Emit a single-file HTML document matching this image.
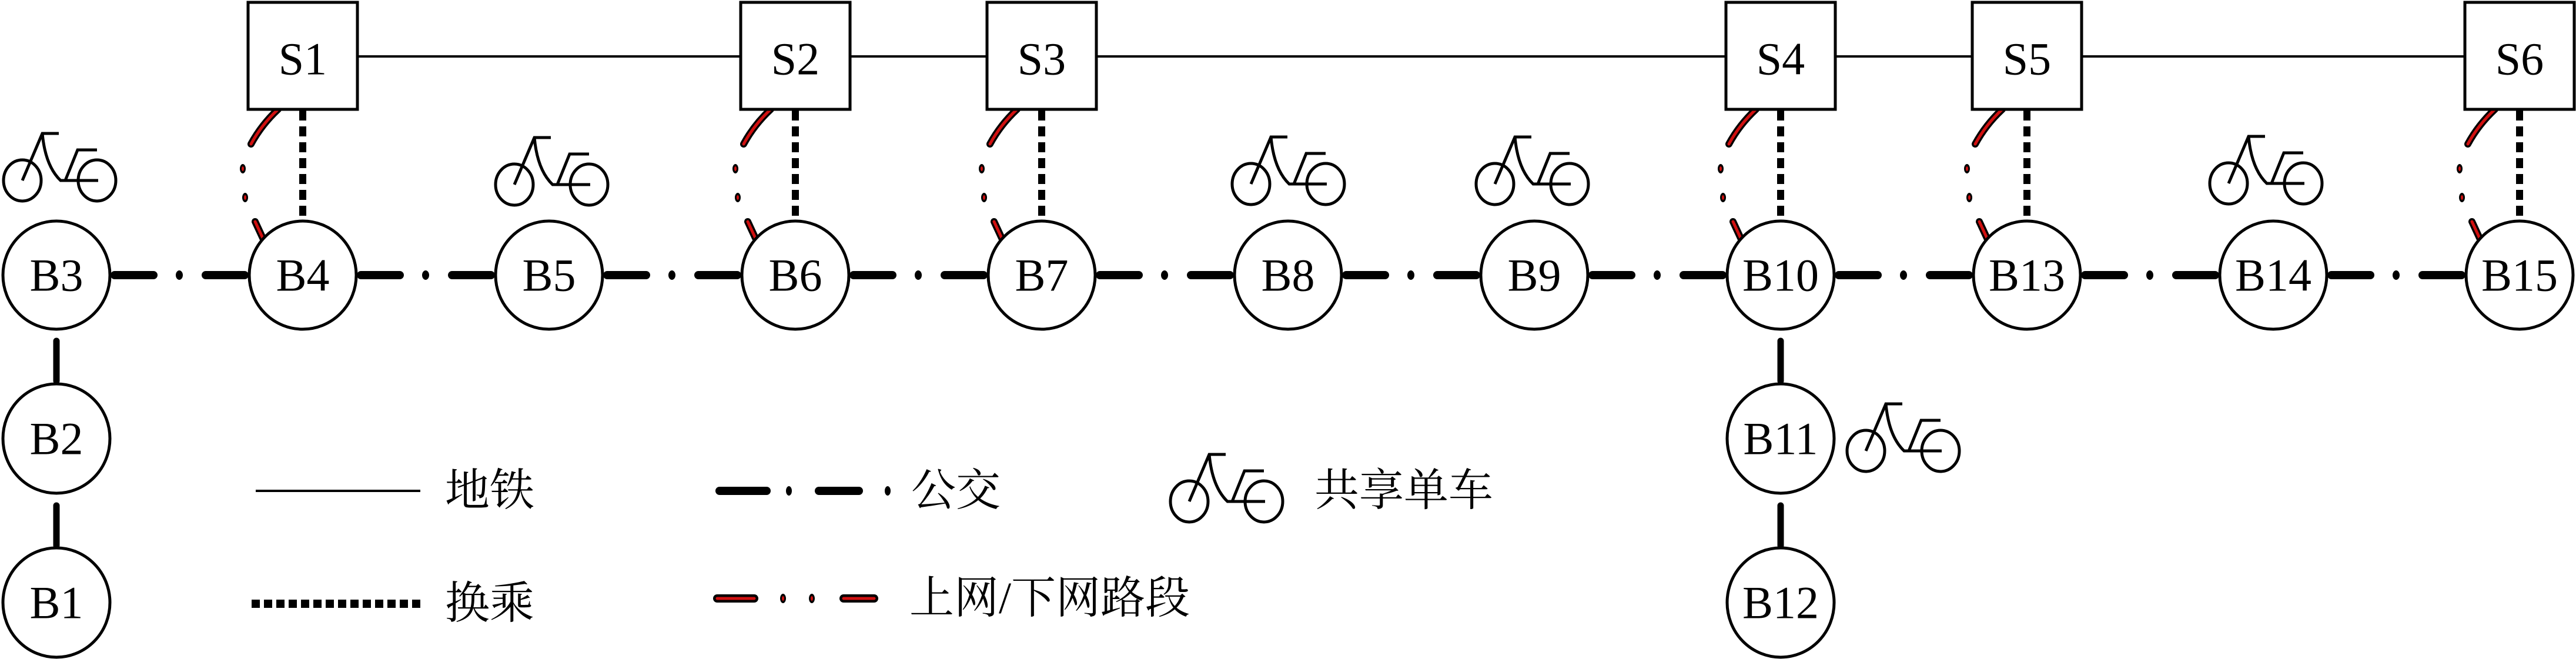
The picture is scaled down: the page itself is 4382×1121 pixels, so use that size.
<!DOCTYPE html>
<html><head><meta charset="utf-8"><style>
html,body{margin:0;padding:0;background:#fff;}
svg{display:block;}
.lbl{font-family:"Liberation Serif",serif;font-size:78px;text-anchor:middle;dominant-baseline:central;}
.leg{font-family:"Liberation Serif","Noto Serif CJK SC",serif;font-size:76px;dominant-baseline:central;}
</style></head><body>
<svg width="4382" height="1121" viewBox="0 0 4382 1121" xmlns="http://www.w3.org/2000/svg">
<defs>
<g id="bike" fill="none" stroke="#000" stroke-width="5">
<ellipse cx="33" cy="80" rx="32" ry="35"/>
<ellipse cx="160" cy="80" rx="32" ry="35"/>
<path d="M33 80 L67 0 L95 0"/>
<path d="M67 0 Q72 55 98 80 L162 80"/>
<path d="M106 80 L127 28 L160 28"/>
</g>
<g id="red">
<path d="M-42 186 Q-70 212 -88 245" stroke="#000" stroke-width="12" fill="none" stroke-linecap="round"/>
<path d="M-42 186 Q-70 212 -88 245" stroke="#d01010" stroke-width="5" fill="none" stroke-linecap="round"/>
<ellipse cx="-102" cy="287" rx="5" ry="8" fill="#000"/><ellipse cx="-102" cy="287" rx="2" ry="4" fill="#d01010"/>
<ellipse cx="-98" cy="336" rx="5" ry="8" fill="#000"/><ellipse cx="-98" cy="336" rx="2" ry="4" fill="#d01010"/>
<path d="M-81 377 L-68 405" stroke="#000" stroke-width="12" stroke-linecap="round"/>
<path d="M-81 377 L-68 405" stroke="#d01010" stroke-width="5" stroke-linecap="round"/>
<line x1="0" y1="188" x2="0" y2="376" stroke="#000" stroke-width="12" stroke-dasharray="17 10"/>
</g>
</defs>

<line x1="515" y1="96" x2="4286" y2="96" stroke="#000" stroke-width="4"/>

<g stroke="#000" stroke-width="14" stroke-linecap="round">
<path d="M195 468H261M350 468H416M614 468H680M769 468H835M1033 468H1099M1188 468H1254M1452 468H1518M1607 468H1673M1871 468H1937M2026 468H2092M2290 468H2356M2445 468H2511M2709 468H2775M2864 468H2930M3128 468H3194M3283 468H3349M3547 468H3613M3702 468H3768M3966 468H4032M4121 468H4187"/>
</g>
<g fill="#000">
<ellipse cx="305" cy="468" rx="6" ry="8"/><ellipse cx="724" cy="468" rx="6" ry="8"/><ellipse cx="1143" cy="468" rx="6" ry="8"/><ellipse cx="1562" cy="468" rx="6" ry="8"/><ellipse cx="1981" cy="468" rx="6" ry="8"/><ellipse cx="2400" cy="468" rx="6" ry="8"/><ellipse cx="2819" cy="468" rx="6" ry="8"/><ellipse cx="3238" cy="468" rx="6" ry="8"/><ellipse cx="3657" cy="468" rx="6" ry="8"/><ellipse cx="4076" cy="468" rx="6" ry="8"/>
</g>
<g stroke="#000" stroke-width="11" stroke-linecap="round">
<line x1="96" y1="580" x2="96" y2="648"/>
<line x1="96" y1="860" x2="96" y2="928"/>
<line x1="3029" y1="580" x2="3029" y2="648"/>
<line x1="3029" y1="860" x2="3029" y2="928"/>
</g>

<use href="#red" x="515" y="0"/>
<use href="#red" x="1353" y="0"/>
<use href="#red" x="1772" y="0"/>
<use href="#red" x="3029" y="0"/>
<use href="#red" x="3448" y="0"/>
<use href="#red" x="4286" y="0"/>

<g fill="#fff" stroke="#000" stroke-width="5">
<rect x="422" y="4" width="186" height="182"/>
<rect x="1260" y="4" width="186" height="182"/>
<rect x="1679" y="4" width="186" height="182"/>
<rect x="2936" y="4" width="186" height="182"/>
<rect x="3355" y="4" width="186" height="182"/>
<rect x="4193" y="4" width="186" height="182"/>
</g>
<text class="lbl" x="515" y="100">S1</text>
<text class="lbl" x="1353" y="100">S2</text>
<text class="lbl" x="1772" y="100">S3</text>
<text class="lbl" x="3029" y="100">S4</text>
<text class="lbl" x="3448" y="100">S5</text>
<text class="lbl" x="4286" y="100">S6</text>

<g fill="#fff" stroke="#000" stroke-width="5">
<ellipse cx="96" cy="468" rx="91" ry="92"/>
<ellipse cx="515" cy="468" rx="91" ry="92"/>
<ellipse cx="934" cy="468" rx="91" ry="92"/>
<ellipse cx="1353" cy="468" rx="91" ry="92"/>
<ellipse cx="1772" cy="468" rx="91" ry="92"/>
<ellipse cx="2191" cy="468" rx="91" ry="92"/>
<ellipse cx="2610" cy="468" rx="91" ry="92"/>
<ellipse cx="3029" cy="468" rx="91" ry="92"/>
<ellipse cx="3448" cy="468" rx="91" ry="92"/>
<ellipse cx="3867" cy="468" rx="91" ry="92"/>
<ellipse cx="4286" cy="468" rx="91" ry="92"/>
<ellipse cx="96" cy="746" rx="91" ry="93"/>
<ellipse cx="96" cy="1025" rx="91" ry="93"/>
<ellipse cx="3029" cy="746" rx="91" ry="93"/>
<ellipse cx="3029" cy="1025" rx="91" ry="93"/>
</g>
<text class="lbl" x="96" y="468">B3</text>
<text class="lbl" x="515" y="468">B4</text>
<text class="lbl" x="934" y="468">B5</text>
<text class="lbl" x="1353" y="468">B6</text>
<text class="lbl" x="1772" y="468">B7</text>
<text class="lbl" x="2191" y="468">B8</text>
<text class="lbl" x="2610" y="468">B9</text>
<text class="lbl" x="3029" y="468">B10</text>
<text class="lbl" x="3448" y="468">B13</text>
<text class="lbl" x="3867" y="468">B14</text>
<text class="lbl" x="4286" y="468">B15</text>
<text class="lbl" x="96" y="746">B2</text>
<text class="lbl" x="96" y="1025">B1</text>
<text class="lbl" x="3029" y="746">B11</text>
<text class="lbl" x="3029" y="1025">B12</text>

<use href="#bike" x="5" y="227"/>
<use href="#bike" x="842" y="234"/>
<use href="#bike" x="2095" y="233"/>
<use href="#bike" x="2510" y="233"/>
<use href="#bike" x="3758" y="232"/>
<use href="#bike" x="3141" y="687"/>

<line x1="435" y1="835" x2="715" y2="835" stroke="#000" stroke-width="4"/>
<text class="leg" x="757" y="835">地铁</text>
<line x1="428" y1="1027" x2="718" y2="1027" stroke="#000" stroke-width="14" stroke-dasharray="14 7"/>
<text class="leg" x="757" y="1027">换乘</text>

<g stroke="#000" stroke-width="14" stroke-linecap="round">
<line x1="1224" y1="835" x2="1304" y2="835"/>
<line x1="1393" y1="835" x2="1461" y2="835"/>
</g>
<ellipse cx="1342" cy="835" rx="5" ry="8" fill="#000"/>
<ellipse cx="1510" cy="835" rx="5" ry="8" fill="#000"/>
<text class="leg" x="1550" y="835">公交</text>

<use href="#bike" x="1990" y="773"/>
<text class="leg" x="2236" y="835">共享单车</text>

<g stroke-linecap="round">
<line x1="1220" y1="1018" x2="1283" y2="1018" stroke="#000" stroke-width="14"/>
<line x1="1220" y1="1018" x2="1283" y2="1018" stroke="#d01010" stroke-width="5"/>
<line x1="1435" y1="1018" x2="1487" y2="1018" stroke="#000" stroke-width="14"/>
<line x1="1435" y1="1018" x2="1487" y2="1018" stroke="#d01010" stroke-width="5"/>
</g>
<ellipse cx="1332" cy="1018" rx="5" ry="8" fill="#000"/><ellipse cx="1332" cy="1018" rx="2" ry="4" fill="#d01010"/>
<ellipse cx="1381" cy="1018" rx="5" ry="8" fill="#000"/><ellipse cx="1381" cy="1018" rx="2" ry="4" fill="#d01010"/>
<text class="leg" x="1547" y="1018">上网/下网路段</text>
</svg>
</body></html>
